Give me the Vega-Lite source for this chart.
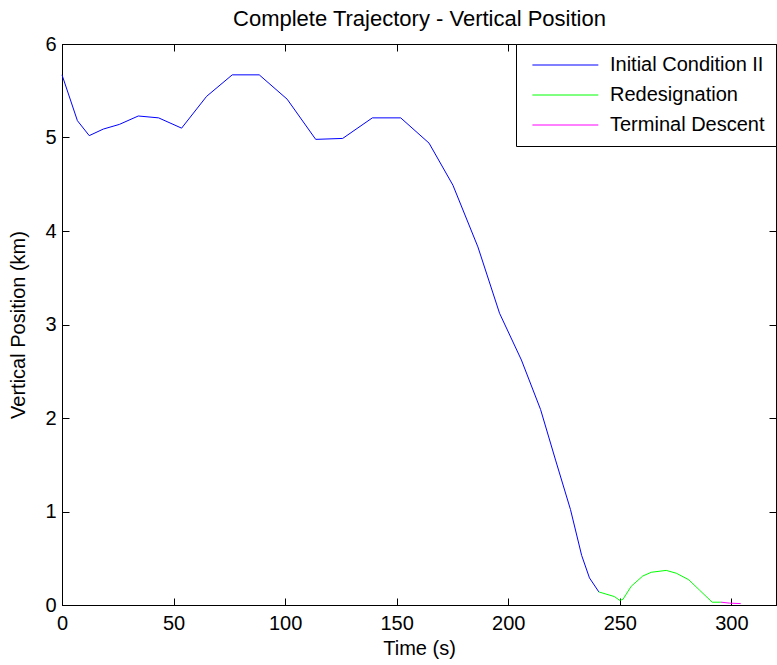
{
  "$schema": "https://vega.github.io/schema/vega-lite/v6.json",
  "width": 714,
  "height": 561,
  "autosize": {"type": "none"},
  "padding": {"left": 62, "top": 44, "right": 1, "bottom": 60},
  "background": "white",
  "config": {
    "view": {"stroke": "black", "strokeWidth": 1},
    "font": "Liberation Sans",
    "axis": {
      "grid": false,
      "domainColor": "black",
      "tickColor": "black",
      "tickSize": -7,
      "labelColor": "black",
      "titleColor": "black",
      "labelFont": "Liberation Sans",
      "titleFont": "Liberation Sans",
      "labelFontSize": 20,
      "titleFontSize": 20,
      "titleFontWeight": "normal"
    }
  },
  "data": {
    "values": [
      {"t": 0, "y": 5.67, "phase": "Initial Condition II"},
      {"t": 6.9, "y": 5.18, "phase": "Initial Condition II"},
      {"t": 12.2, "y": 5.02, "phase": "Initial Condition II"},
      {"t": 18.5, "y": 5.09, "phase": "Initial Condition II"},
      {"t": 25.7, "y": 5.14, "phase": "Initial Condition II"},
      {"t": 34.2, "y": 5.23, "phase": "Initial Condition II"},
      {"t": 43.3, "y": 5.21, "phase": "Initial Condition II"},
      {"t": 53.6, "y": 5.1, "phase": "Initial Condition II"},
      {"t": 64.8, "y": 5.44, "phase": "Initial Condition II"},
      {"t": 76.3, "y": 5.67, "phase": "Initial Condition II"},
      {"t": 88.4, "y": 5.67, "phase": "Initial Condition II"},
      {"t": 100.9, "y": 5.41, "phase": "Initial Condition II"},
      {"t": 113.7, "y": 4.98, "phase": "Initial Condition II"},
      {"t": 125.8, "y": 4.99, "phase": "Initial Condition II"},
      {"t": 139.1, "y": 5.21, "phase": "Initial Condition II"},
      {"t": 151.8, "y": 5.21, "phase": "Initial Condition II"},
      {"t": 164.5, "y": 4.94, "phase": "Initial Condition II"},
      {"t": 175.2, "y": 4.49, "phase": "Initial Condition II"},
      {"t": 186.4, "y": 3.83, "phase": "Initial Condition II"},
      {"t": 196.1, "y": 3.12, "phase": "Initial Condition II"},
      {"t": 205.9, "y": 2.62, "phase": "Initial Condition II"},
      {"t": 214.5, "y": 2.09, "phase": "Initial Condition II"},
      {"t": 221.2, "y": 1.55, "phase": "Initial Condition II"},
      {"t": 227.9, "y": 1.02, "phase": "Initial Condition II"},
      {"t": 232.9, "y": 0.53, "phase": "Initial Condition II"},
      {"t": 236.4, "y": 0.29, "phase": "Initial Condition II"},
      {"t": 240.6, "y": 0.14, "phase": "Initial Condition II"},
      {"t": 240.6, "y": 0.14, "phase": "Redesignation"},
      {"t": 247.6, "y": 0.09, "phase": "Redesignation"},
      {"t": 249.9, "y": 0.05, "phase": "Redesignation"},
      {"t": 251.4, "y": 0.06, "phase": "Redesignation"},
      {"t": 255.1, "y": 0.2, "phase": "Redesignation"},
      {"t": 260.3, "y": 0.31, "phase": "Redesignation"},
      {"t": 264.1, "y": 0.35, "phase": "Redesignation"},
      {"t": 270.8, "y": 0.37, "phase": "Redesignation"},
      {"t": 275.3, "y": 0.34, "phase": "Redesignation"},
      {"t": 280.9, "y": 0.27, "phase": "Redesignation"},
      {"t": 285.7, "y": 0.16, "phase": "Redesignation"},
      {"t": 291.4, "y": 0.03, "phase": "Redesignation"},
      {"t": 295.4, "y": 0.03, "phase": "Redesignation"},
      {"t": 295.4, "y": 0.03, "phase": "Terminal Descent"},
      {"t": 299.2, "y": 0.02, "phase": "Terminal Descent"},
      {"t": 304.2, "y": 0.015, "phase": "Terminal Descent"}
    ]
  },
  "layer": [
    {
      "mark": {"type": "line", "strokeWidth": 1},
      "encoding": {
        "x": {
          "field": "t", "type": "quantitative",
          "scale": {"domain": [0, 320], "nice": false, "zero": false},
          "axis": {"title": "Time (s)", "values": [0, 50, 100, 150, 200, 250, 300], "labelPadding": 15, "titlePadding": 5, "labelFlush": false}
        },
        "y": {
          "field": "y", "type": "quantitative",
          "scale": {"domain": [0, 6], "nice": false},
          "axis": {"title": "Vertical Position (km)", "values": [0, 1, 2, 3, 4, 5, 6], "labelPadding": 13, "titlePadding": 16, "labelFlush": false}
        },
        "color": {
          "field": "phase", "type": "nominal",
          "scale": {
            "domain": ["Initial Condition II", "Redesignation", "Terminal Descent"],
            "range": ["#0000ff", "#00ff00", "#ff00ff"]
          },
          "legend": {
            "title": null,
            "orient": "top-right",
            "offset": 0,
            "strokeColor": "black",
            "fillColor": "white",
            "padding": 11,
            "symbolType": "M-0.7,0H9.3",
            "symbolSize": 174,
            "symbolStrokeWidth": 1,
            "labelFontSize": 20,
            "labelFont": "Liberation Sans",
            "labelColor": "black",
            "labelOffset": 63,
            "rowPadding": 10,
            "labelLimit": 400
          }
        }
      }
    },
    {
      "mark": {"type": "line", "strokeOpacity": 0},
      "encoding": {
        "x": {
          "field": "t", "type": "quantitative",
          "scale": {"domain": [0, 320], "nice": false, "zero": false},
          "axis": {
            "orient": "top",
            "title": "Complete Trajectory - Vertical Position",
            "titleFontSize": 22,
            "titleBaseline": "alphabetic",
            "titlePadding": 18,
            "labels": false,
            "values": [0, 50, 100, 150, 200, 250, 300]
          }
        },
        "y": {
          "field": "y", "type": "quantitative",
          "scale": {"domain": [0, 6], "nice": false},
          "axis": {"orient": "right", "title": null, "labels": false, "values": [0, 1, 2, 3, 4, 5, 6]}
        },
        "detail": {"field": "phase"}
      }
    }
  ],
  "resolve": {"axis": {"x": "independent", "y": "independent"}}
}
